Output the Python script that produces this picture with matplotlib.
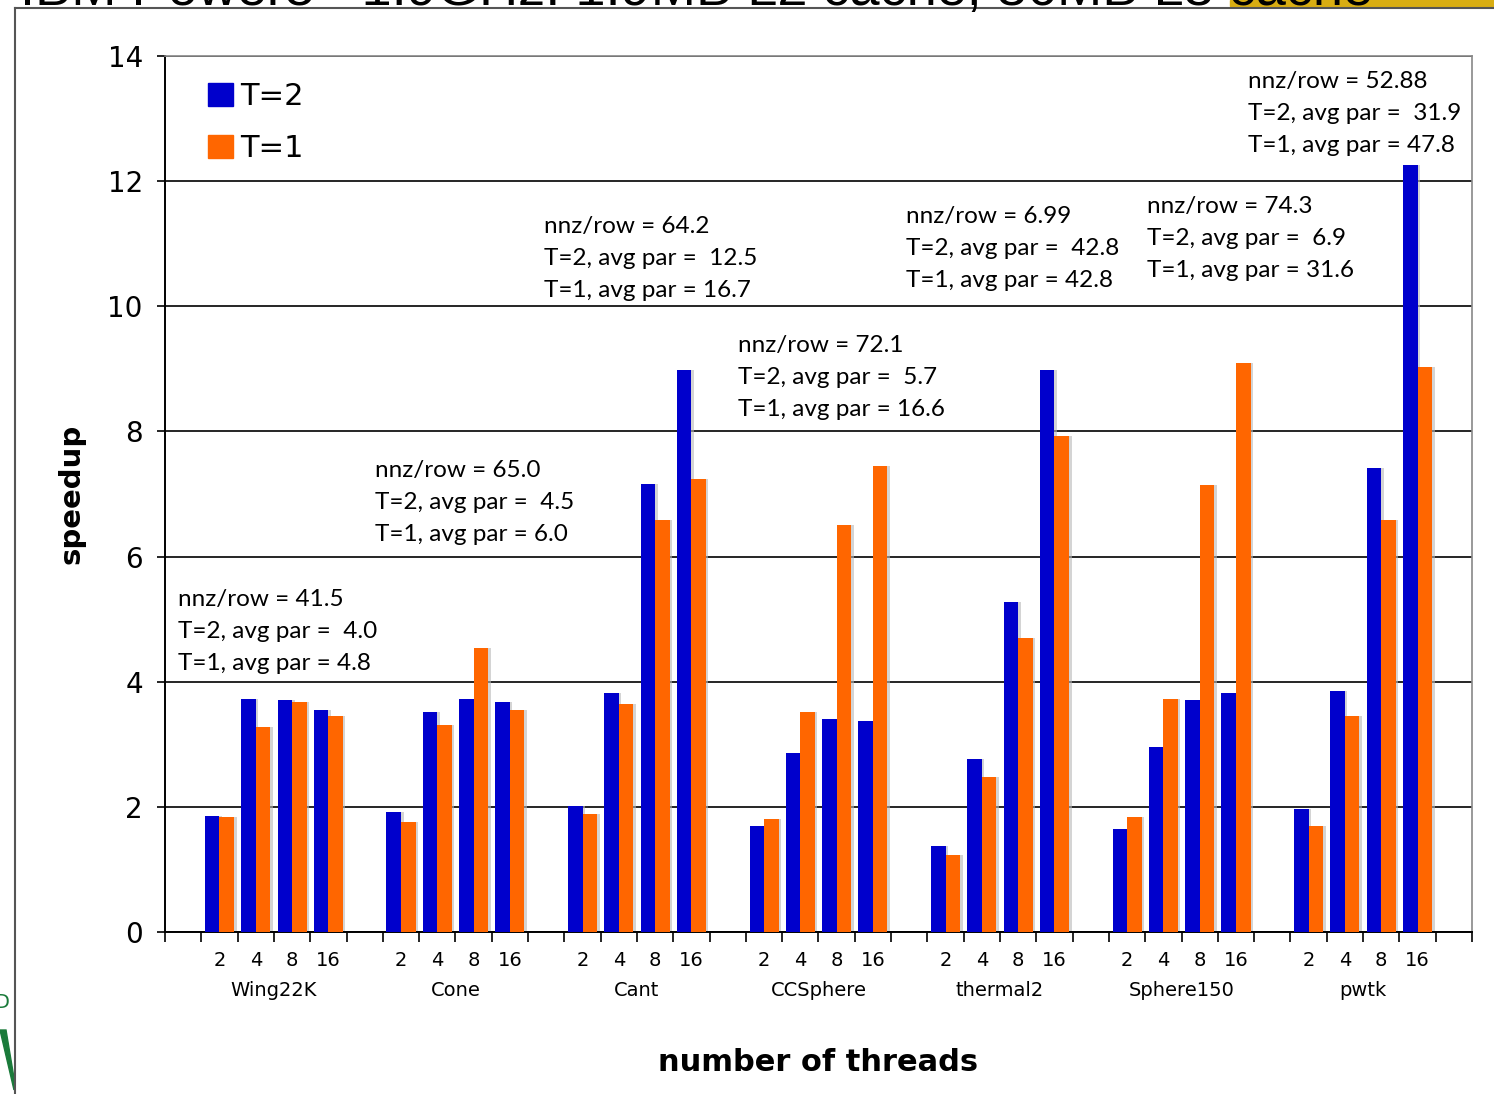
import matplotlib
matplotlib.use("Agg")
import matplotlib.pyplot as plt
import matplotlib.transforms as mtransforms
from matplotlib.patches import Patch, Rectangle, Polygon
from matplotlib.lines import Line2D
import numpy as np

# data
matrices = ["Wing22K", "Cone", "Cant", "CCSphere", "thermal2", "Sphere150", "pwtk"]
threads = ["2", "4", "8", "16"]

speedup_t2 = [
    [1.86, 3.72, 3.70, 3.55],
    [1.91, 3.52, 3.72, 3.67],
    [2.01, 3.82, 7.16, 8.98],
    [1.69, 2.86, 3.40, 3.38],
    [1.37, 2.76, 5.27, 8.98],
    [1.65, 2.95, 3.70, 3.82],
    [1.97, 3.85, 7.42, 12.26],
]
speedup_t1 = [
    [1.83, 3.27, 3.67, 3.46],
    [1.76, 3.31, 4.54, 3.55],
    [1.89, 3.64, 6.58, 7.24],
    [1.81, 3.52, 6.50, 7.45],
    [1.23, 2.47, 4.70, 7.93],
    [1.84, 3.72, 7.14, 9.09],
    [1.70, 3.46, 6.58, 9.03],
]

nnz_row = ["41.5", "65.0", "64.2", "72.1", "6.99", "74.3", "52.88"]
avg_par_t2 = ["4.0", "4.5", "12.5", "5.7", "42.8", "6.9", "31.9"]
avg_par_t1 = ["4.8", "6.0", "16.7", "16.6", "42.8", "31.6", "47.8"]

# where each annotation block sits (left x in slots, first line y in speedup units)
note_pos = [(0.36, 5.34), (5.79, 7.40), (10.44, 11.30), (15.79, 9.41),
            (20.41, 11.46), (27.05, 11.63), (29.83, 13.63)]

BLUE = "#0000cc"
ORANGE = "#ff6600"

fig = plt.figure(figsize=(14.94, 10.94), dpi=100)
ax = fig.add_axes([165 / 1494, 1 - 932 / 1094, 1307 / 1494, 876 / 1094])

# slide decorations around the chart (title is cut off at the top, as in the slide)
fig.patches.append(Rectangle((1230 / 1494, 1 - 6 / 1094), 264 / 1494, 6 / 1094,
                             transform=fig.transFigure, color="#d8ad12", zorder=0))
fig.text(20 / 1494, 1 - 5 / 1094, "IBM Power5+ 1.9GHz: 1.9MB L2 cache, 36MB L3 cache",
         fontsize=39, family="Liberation Sans", va="baseline", ha="left")
fig.add_artist(Line2D([15 / 1494, 15 / 1494], [0, 1 - 8 / 1094], color="#555555", lw=1.5))
fig.add_artist(Line2D([15 / 1494, 1], [1 - 8 / 1094, 1 - 8 / 1094], color="#555555", lw=1.5))
fig.patches.append(Polygon([(0, 1 - 1030 / 1094), (6 / 1494, 1 - 1030 / 1094),
                            (14 / 1494, 1 - 1078 / 1094), (14 / 1494, 1 - 1090 / 1094)],
                           closed=True, transform=fig.transFigure, color="#1a7a3a"))
fig.text(-6 / 1494, 1 - 1002 / 1094, "D", color="#1a7a3a", fontsize=14, va="center",
         ha="left", family="DejaVu Sans")

n_groups = len(matrices)
slots = []
for g in range(n_groups):
    for j in range(len(threads)):
        slots.append(5 * g + 1 + j + 0.5)
slots = np.array(slots)
t2 = np.array(speedup_t2).ravel()
t1 = np.array(speedup_t1).ravel()

w = 0.4
# soft shadows behind the bars
ax.bar(slots - w / 2 + 0.07, t2, w, color="#b8b8b8", alpha=0.6, zorder=2, linewidth=0)
ax.bar(slots + w / 2 + 0.07, t1, w, color="#b8b8b8", alpha=0.6, zorder=2, linewidth=0)
ax.bar(slots - w / 2, t2, w, color=BLUE, zorder=3, linewidth=0, label="T=2")
ax.bar(slots + w / 2, t1, w, color=ORANGE, zorder=3, linewidth=0, label="T=1")

ax.set_xlim(0, 5 * n_groups + 1)
ax.set_ylim(0, 14)

# y axis
ax.set_yticks(range(0, 15, 2))
ax.tick_params(axis="y", labelsize=20, length=6, width=1.2, pad=10, direction="out")
ax.yaxis.grid(True, color="black", lw=1.2)
ax.set_axisbelow(True)
ax.set_ylabel("speedup", fontsize=21, fontweight="bold", labelpad=16)

# x axis: tick marks at slot edges, thread counts under the bars
ax.set_xticks(np.arange(0, 5 * n_groups + 2))
ax.set_xticklabels([])
ax.tick_params(axis="x", which="major", length=7, width=1.2, direction="out")
ax.set_xticks(slots, minor=True)
ax.set_xticklabels(threads * n_groups, minor=True, fontsize=14)
ax.tick_params(axis="x", which="minor", length=0, pad=14)

trans = mtransforms.blended_transform_factory(ax.transData, ax.transAxes)
for g, name in enumerate(matrices):
    ax.text(5 * g + 3, -59 / 876, name, transform=trans, ha="center", va="center",
            fontsize=14)
ax.set_xlabel("number of threads", fontsize=22, fontweight="bold", labelpad=56)

for side in ["top", "right"]:
    ax.spines[side].set_color("#888888")
    ax.spines[side].set_linewidth(1.2)
for side in ["left", "bottom"]:
    ax.spines[side].set_linewidth(1.4)

# annotation blocks above each group
line_step = 32 / 62.57
for g in range(n_groups):
    x0, y0 = note_pos[g]
    lines = ["nnz/row = " + nnz_row[g],
             "T=2, avg par =  " + avg_par_t2[g],
             "T=1, avg par = " + avg_par_t1[g]]
    for k, s in enumerate(lines):
        ax.text(x0, y0 - k * line_step, s, fontsize=17.5, family="Lato",
                ha="left", va="center_baseline", zorder=5)

handles = [Patch(color=BLUE), Patch(color=ORANGE)]
ax.legend(handles, ["T=2", "T=1"], loc="upper left", bbox_to_anchor=(0.033, 0.97),
          frameon=False, fontsize=22, handlelength=0.8, handleheight=0.8,
          handletextpad=0.25, labelspacing=0.75, borderaxespad=0, borderpad=0)

fig.savefig("out.png", dpi=100)
